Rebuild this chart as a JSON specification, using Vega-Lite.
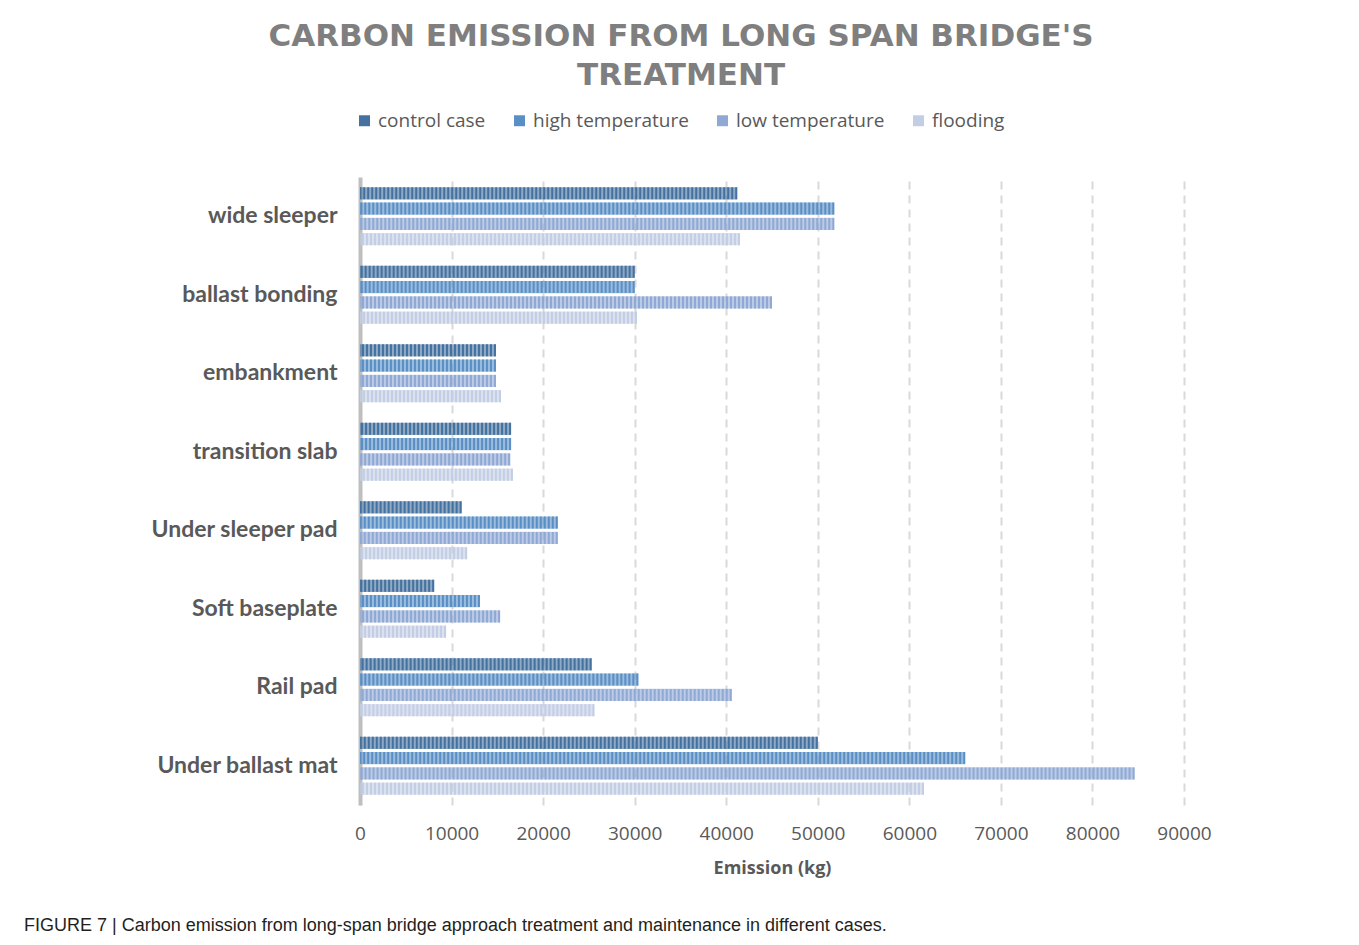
{
  "$schema": "https://vega.github.io/schema/vega-lite/v6.json",
  "background": "white",
  "padding": {"left": 24, "top": 21, "right": 20, "bottom": 10},
  "config": {"view": {"stroke": null}},
  "title": {"text": "FIGURE 7 | Carbon emission from long-span bridge approach treatment and maintenance in different cases.", "orient": "bottom", "anchor": "start", "frame": "bounds", "font": "Liberation Sans", "fontSize": 18, "fontWeight": "normal", "color": "#231F20", "offset": 40},
  "resolve": {"legend": {"color": "independent"}, "scale": {"color": "independent"}},
  "vconcat": [
    {
      "title": {"text": ["CARBON EMISSION FROM LONG SPAN BRIDGE'S", "TREATMENT"], "font": "DejaVu Sans", "fontSize": 31, "fontWeight": "bold", "color": "#7F7F7F", "lineHeight": 39, "anchor": "middle", "frame": "group", "dx": -91, "offset": 19},
      "width": 824,
      "height": 628,
      "data": {"values": [
        {"item": "wide sleeper", "case": "control case", "value": 41200},
        {"item": "wide sleeper", "case": "high temperature", "value": 51800},
        {"item": "wide sleeper", "case": "low temperature", "value": 51800},
        {"item": "wide sleeper", "case": "flooding", "value": 41500},
        {"item": "ballast bonding", "case": "control case", "value": 30000},
        {"item": "ballast bonding", "case": "high temperature", "value": 30000},
        {"item": "ballast bonding", "case": "low temperature", "value": 45000},
        {"item": "ballast bonding", "case": "flooding", "value": 30250},
        {"item": "embankment", "case": "control case", "value": 14850},
        {"item": "embankment", "case": "high temperature", "value": 14850},
        {"item": "embankment", "case": "low temperature", "value": 14850},
        {"item": "embankment", "case": "flooding", "value": 15400},
        {"item": "transition slab", "case": "control case", "value": 16500},
        {"item": "transition slab", "case": "high temperature", "value": 16500},
        {"item": "transition slab", "case": "low temperature", "value": 16400},
        {"item": "transition slab", "case": "flooding", "value": 16700},
        {"item": "Under sleeper pad", "case": "control case", "value": 11100},
        {"item": "Under sleeper pad", "case": "high temperature", "value": 21600},
        {"item": "Under sleeper pad", "case": "low temperature", "value": 21600},
        {"item": "Under sleeper pad", "case": "flooding", "value": 11700},
        {"item": "Soft baseplate", "case": "control case", "value": 8100},
        {"item": "Soft baseplate", "case": "high temperature", "value": 13100},
        {"item": "Soft baseplate", "case": "low temperature", "value": 15300},
        {"item": "Soft baseplate", "case": "flooding", "value": 9400},
        {"item": "Rail pad", "case": "control case", "value": 25300},
        {"item": "Rail pad", "case": "high temperature", "value": 30400},
        {"item": "Rail pad", "case": "low temperature", "value": 40600},
        {"item": "Rail pad", "case": "flooding", "value": 25600},
        {"item": "Under ballast mat", "case": "control case", "value": 50000},
        {"item": "Under ballast mat", "case": "high temperature", "value": 66100},
        {"item": "Under ballast mat", "case": "low temperature", "value": 84600},
        {"item": "Under ballast mat", "case": "flooding", "value": 61600}
      ]},
      "encoding": {
        "y": {"field": "item", "type": "nominal", "sort": null, "title": null,
              "scale": {"paddingInner": 0.22, "paddingOuter": 0.11},
              "axis": {"labelFont": "Lato", "labelFontSize": 23, "labelFontWeight": "bold", "labelColor": "#595959", "labelPadding": 23, "labelLimit": 320, "ticks": false, "domainColor": "#BFBFBF", "domainWidth": 4, "grid": false, "minExtent": 336, "maxExtent": 336}},
        "yOffset": {"field": "case", "type": "nominal", "sort": ["control case", "high temperature", "low temperature", "flooding"], "scale": {"paddingInner": 0.2, "paddingOuter": 0.1}},
        "color": {"field": "case", "type": "nominal", "sort": ["control case", "high temperature", "low temperature", "flooding"],
                  "scale": {"domain": ["control case", "high temperature", "low temperature", "flooding"], "range": ["#44719F", "#5A8FC6", "#8FA9D4", "#C3CEE5"]},
                  "legend": {"orient": "none", "legendX": -5, "legendY": -66, "direction": "horizontal", "title": null, "labelFont": "Open Sans", "labelFontSize": 19, "labelColor": "#595959", "symbolType": "square", "symbolSize": 120, "symbolStrokeWidth": 0, "columnPadding": 24, "labelOffset": 4}}
      },
      "layer": [
        {"mark": {"type": "bar", "fillOpacity": 0.6},
         "encoding": {"x": {"field": "value", "type": "quantitative", "title": "Emission (kg)",
           "scale": {"domain": [0, 90000], "nice": false},
           "axis": {"values": [0, 10000, 20000, 30000, 40000, 50000, 60000, 70000, 80000, 90000], "format": "d", "labelFlush": false, "labelFont": "Open Sans", "labelFontSize": 19, "labelColor": "#595959", "labelPadding": 19, "ticks": false, "domain": false, "gridColor": "#D9D9D9", "gridWidth": 2, "gridDash": [8, 6], "titleFont": "Open Sans", "titleFontSize": 18, "titleFontWeight": "bold", "titleColor": "#595959", "titlePadding": 16}}}},
        {"mark": {"type": "rule", "strokeDash": [2, 2], "strokeWidth": 12},
         "encoding": {"x": {"field": "value", "type": "quantitative"}, "x2": {"datum": 0}}}
      ]
    }
  ]
}
